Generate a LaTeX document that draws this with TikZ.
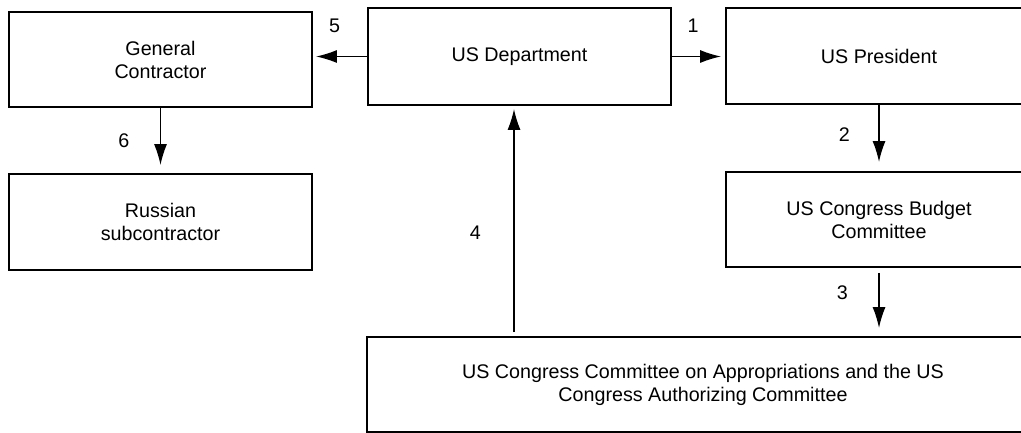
\documentclass[tikz,border=0pt]{standalone}
\usepackage{fontspec}
\setmainfont{Liberation Sans}
\usetikzlibrary{positioning,arrows.meta}

\begin{document}
\begin{tikzpicture}[x=1pt, y=-1pt,
        box/.style={draw, line width=1.8pt, align=center, inner sep=0pt},
        arr/.style={-{Latex[length=21pt,width=13pt]}, line width=1.6pt},
        font=\fontsize{19.7}{23}\selectfont]
            \useasboundingbox (0,0) rectangle (1021,433);

            \node[box, minimum width=303pt, minimum height=95pt] (GC) at (160.5,59.5) {General\\Contractor};
            \node[box, minimum width=303pt, minimum height=96pt] (RS) at (160.5,222) {Russian\\subcontractor};
            \node[box, minimum width=303pt, minimum height=97pt] (DP) at (519.5,56.5) {US Department};
            \node[box, minimum width=306pt, minimum height=96pt] (PR) at (879,56) {US President};
            \node[box, minimum width=306pt, minimum height=95pt] (BC) at (879,219.5) {US Congress Budget\\Committee};
            \node[box, minimum width=672pt, minimum height=95pt] (CA) at (703,384.5) {US Congress Committee on Appropriations and the US\\Congress Authorizing Committee};

            \path[arr, shorten >=4pt] (DP.east) edge node[above=20pt, pos=0.4] {1} (DP.east -| PR.west);
            \path[arr, shorten >=9pt] (PR) edge node[left=25pt, pos=0.45] {2} (BC);
            \path[arr, shorten <=5pt, shorten >=8pt] (BC) edge node[left=27pt, pos=0.36] {3} (BC.south |- CA.north);
            \path[arr, shorten <=4pt, shorten >=3pt] (CA.north -| 514,0) edge node[left=29pt, pos=0.45] {4} (DP.south -| 514,0);
            \path[arr, shorten >=3pt] (DP.west) edge node[above=20pt, pos=0.6] {5} (DP.west -| GC.east);
            \path[arr, shorten >=8pt] (GC) edge node[left=27pt, pos=0.5] {6} (RS);
        \end{tikzpicture}
\end{document}
